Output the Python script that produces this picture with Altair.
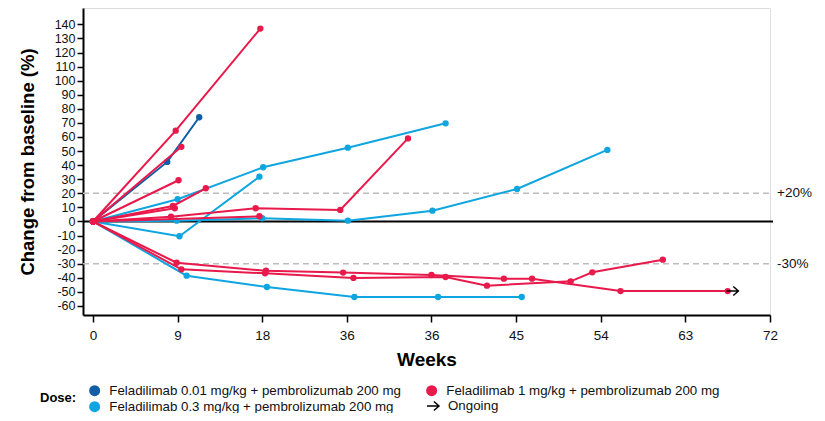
import altair as alt
import pandas as pd

# ---------------- data ----------------
dose_labels = [
    "Feladilimab 0.01 mg/kg + pembrolizumab 200 mg",
    "Feladilimab 1 mg/kg + pembrolizumab 200 mg",
    "Feladilimab 0.3 mg/kg + pembrolizumab 200 mg",
]
dose_colors = ["#115ea6", "#e8194b", "#0ea5e0"]
# legend is filled column by column: 0.01, 0.3 | 1
legend_order = [dose_labels[0], dose_labels[2], dose_labels[1]]

# dose 0.01 mg/kg
d001_weeks = [[0, 7.9, 11.3]]
d001_values = [[0, 42.3, 74]]

# dose 0.3 mg/kg
d03_weeks = [
    [0, 9.0, 18.1, 27.1, 37.5],
    [0, 9.2, 17.7],
    [0, 8.9, 18.0, 27.1, 36.1, 45.1, 54.7],
    [0, 9.96, 18.5, 27.8, 36.7, 45.6],
]
d03_values = [
    [0, 15.8, 38.5, 52.4, 69.7],
    [0, -10.5, 31.8],
    [0, 0.6, 2.3, 0.6, 7.7, 23.1, 50.8],
    [0, -38.5, -46.5, -53.6, -53.6, -53.6],
]

# dose 1 mg/kg
d1_weeks = [
    [0, 8.8, 17.8],
    [0, 9.4],
    [0, 9.1],
    [0, 8.5, 12.0],
    [0, 8.7],
    [0, 8.3, 17.3, 26.3, 33.5],
    [0, 17.7],
    [0, 8.9, 18.4, 26.6, 36.0, 43.7, 46.7, 56.1, 67.5],
    [0, 9.4, 18.3, 27.7, 37.5, 41.9, 50.8, 53.1, 60.6],
]
d1_values = [
    [0, 64.5, 137],
    [0, 53],
    [0, 29.3],
    [0, 11, 23.6],
    [0, 9.4],
    [0, 3.4, 9.4, 8.2, 59],
    [0, 3.7],
    [0, -29.3, -35, -36.3, -38, -40.6, -40.6, -49.4, -49.4],
    [0, -34, -36.8, -40.1, -39.4, -45.6, -42.5, -36.1, -27.1],
]

ongoing_weeks = [68.0]
ongoing_values = [-49.4]
ongoing_label = ["Ongoing"]

ref_values = [20, -30]
ref_labels = ["+20%", "-30%"]

x_tick_values = [0, 9, 18, 27, 36, 45, 54, 63, 72]
x_tick_labels = ["0", "9", "18", "36", "36", "45", "54", "63", "72"]
y_tick_values = list(range(-60, 141, 10))

# ---------------- build tables ----------------
def make_df(weeks, values, dose, start):
    rows = []
    for i, (ws, vs) in enumerate(zip(weeks, values)):
        for w, v in zip(ws, vs):
            rows.append({"pid": start + i, "dose": dose, "week": w, "value": v})
    return pd.DataFrame(rows)

df001 = make_df(d001_weeks, d001_values, dose_labels[0], 0)
df03 = make_df(d03_weeks, d03_values, dose_labels[2], 10)
df1 = make_df(d1_weeks, d1_values, dose_labels[1], 20)

FONT = "Liberation Sans"

label_expr = " : ".join(
    f"datum.value == {v} ? '{l}'" for v, l in zip(x_tick_values, x_tick_labels)
) + " : datum.label"

x_scale = alt.Scale(domain=[-1.06, 72], nice=False, zero=False)
y_scale = alt.Scale(domain=[-66.4, 151.6], nice=False, zero=False)

x_enc = alt.X(
    "week:Q", scale=x_scale,
    axis=alt.Axis(
        values=x_tick_values, labelExpr=label_expr, title="Weeks",
        grid=False, domainColor="black", domainWidth=2, tickColor="black",
        tickWidth=1.5, tickSize=7, labelPadding=6, labelFont=FONT,
        labelFontSize=13.5, labelColor="#111", titleFont=FONT, titleFontSize=19,
        titleFontWeight="bold", titleColor="black", titleY=50,
        titleBaseline="alphabetic", labelFlush=False,
    ),
)
y_enc = alt.Y(
    "value:Q", scale=y_scale,
    axis=alt.Axis(
        values=y_tick_values, labelExpr="'' + datum.value",
        title="Change from baseline (%)", grid=False, domainColor="black",
        domainWidth=2, tickColor="black", tickWidth=1.5, tickSize=6,
        labelPadding=2, labelFont=FONT, labelFontSize=12.5, labelColor="#111",
        titleFont=FONT, titleFontSize=18.5, titleFontWeight="bold",
        titleColor="black", titleX=-49.5, titleY=153.5, titleAngle=270,
        titleAlign="center", titleBaseline="alphabetic", labelFlush=False,
    ),
)

color_scale = alt.Scale(domain=dose_labels, range=dose_colors)

dose_legend = alt.Legend(
    title="Dose:", titleOrient="left", titleFont=FONT, titleFontSize=13,
    titleFontWeight="bold", titleColor="black", titleAnchor="middle",
    titleBaseline="middle", titlePadding=11, orient="none", legendX=-43,
    legendY=376, columns=2, columnPadding=24, rowPadding=2,
    values=legend_order,
    symbolType="circle", symbolSize=121, symbolStrokeWidth=0,
    symbolOpacity=1, labelFont=FONT, labelFontSize=13.3, labelColor="#111",
    labelOffset=8, labelLimit=400, padding=0,
)


def layer(df, colour):
    lines = alt.Chart(df).mark_line(strokeWidth=2, color=colour).encode(
        x=x_enc, y=y_enc, detail="pid:N", order="week:Q",
    )
    pts = alt.Chart(df).mark_circle(size=40, opacity=1).encode(
        x=x_enc, y=y_enc,
        color=alt.Color("dose:N", scale=color_scale, legend=dose_legend),
    )
    return [lines, pts]


zero_df = pd.DataFrame({"value": [0]})
zero_rule = alt.Chart(zero_df).mark_rule(color="black", strokeWidth=2).encode(
    y=y_enc, x=alt.value(0), x2=alt.value(690)
)
ref_df = pd.DataFrame({"value": ref_values, "label": ref_labels})
ref_rules = alt.Chart(ref_df).mark_rule(
    color="#bdbdbd", strokeWidth=1.5, strokeDash=[6, 4]
).encode(y=y_enc, x=alt.value(0), x2=alt.value(690))
ref_text = alt.Chart(ref_df).mark_text(
    align="left", baseline="middle", font=FONT, fontSize=13.5, color="#111"
).encode(y=y_enc, x=alt.value(694), text="label:N")

arrow_path = "M-1,0L1,0M0.15,-0.75L1,0L0.15,0.75"
ongoing_df = pd.DataFrame(
    {"week": ongoing_weeks, "value": ongoing_values, "status": ongoing_label}
)
ongoing = alt.Chart(ongoing_df).mark_point(
    filled=False, color="black", strokeWidth=1.5, opacity=1, size=144
).encode(
    x=x_enc, y=y_enc,
    shape=alt.Shape(
        "status:N",
        scale=alt.Scale(domain=ongoing_label, range=[arrow_path]),
        legend=alt.Legend(
            title=None, orient="none", legendX=343, legendY=391,
            symbolStrokeColor="black", symbolFillColor="transparent",
            symbolSize=144, symbolStrokeWidth=1.5, labelFont=FONT,
            labelFontSize=13.3, labelColor="#111", labelOffset=8, padding=0,
        ),
    ),
)

layers = [ref_rules, zero_rule, ref_text]
layers += layer(df03, dose_colors[2]) + layer(df001, dose_colors[0])
layers += layer(df1, dose_colors[1])
layers += [ongoing]

chart = alt.layer(*layers).properties(
    width=687, height=307,
    padding={"left": 75, "top": 0, "right": 47, "bottom": 98},
    autosize=alt.AutoSizeParams(type="none"),
).configure_view(stroke=None).configure(font=FONT)

chart.save("out.html", embed_options={"renderer": "svg", "actions": False})
